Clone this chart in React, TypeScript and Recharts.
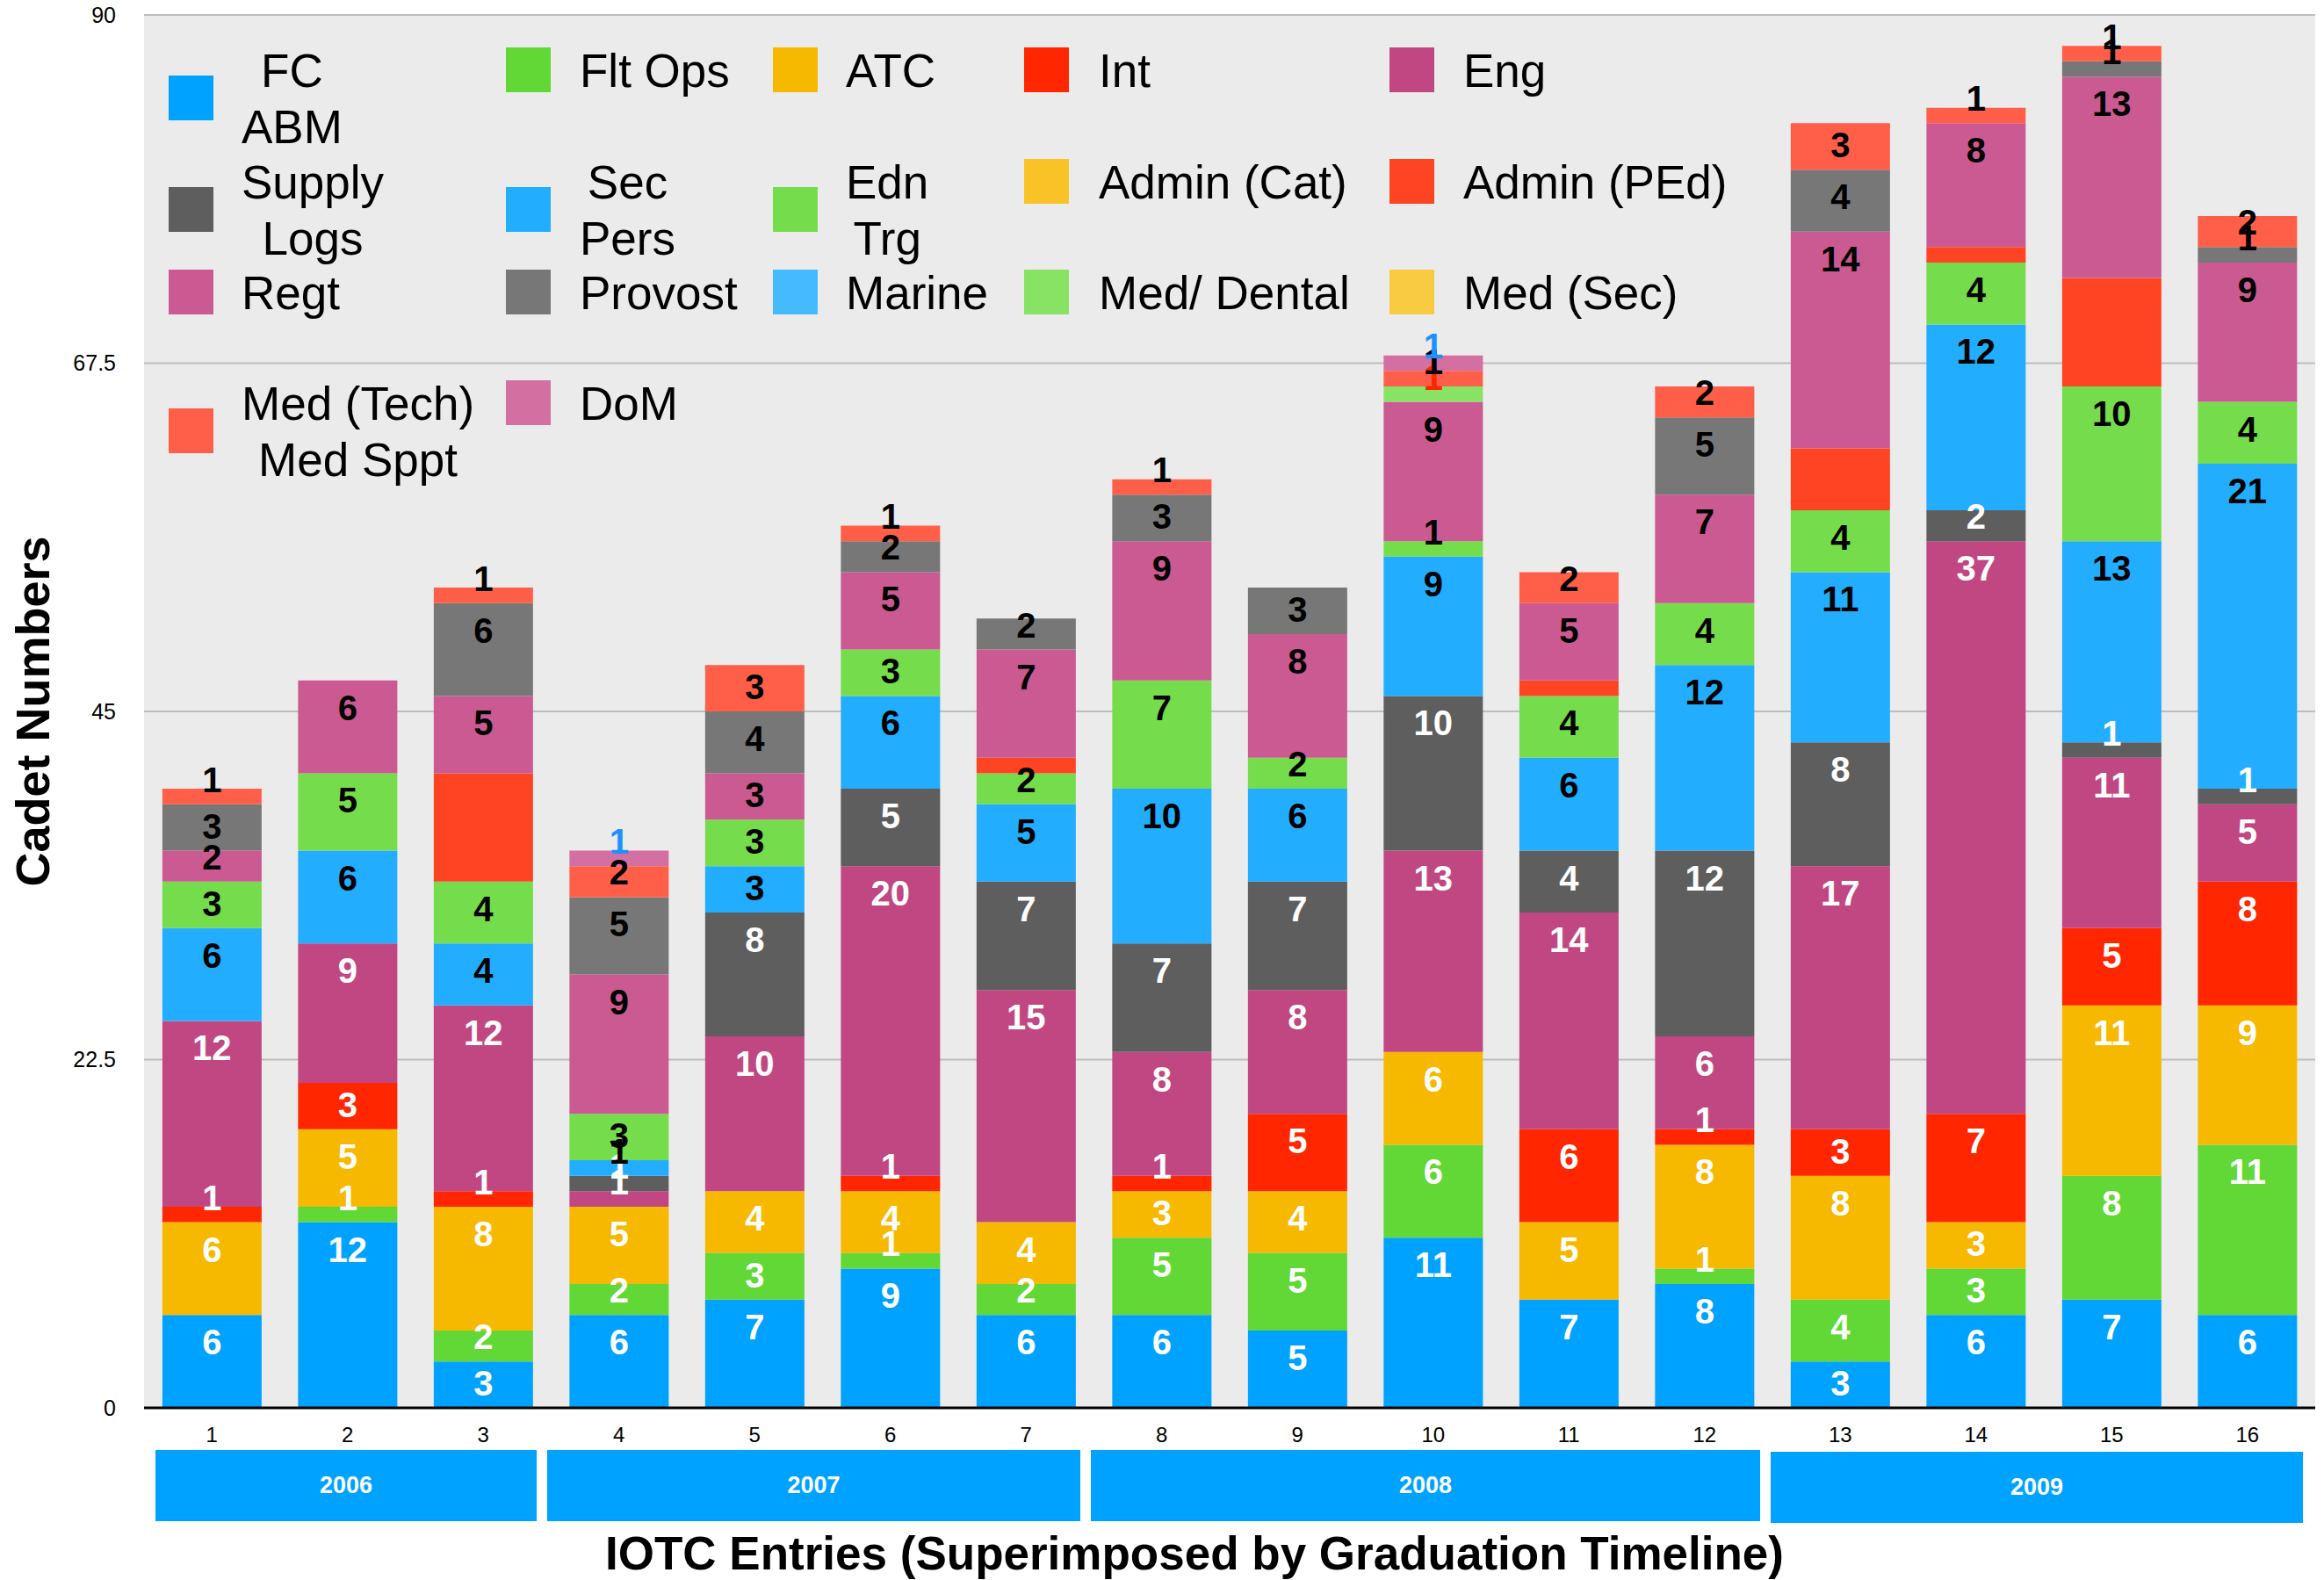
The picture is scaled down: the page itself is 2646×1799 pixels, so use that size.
import { BarChart, Bar, XAxis, YAxis, CartesianGrid, LabelList } from 'recharts';

const FONT = '"Liberation Sans", Arial, Helvetica, sans-serif';

// IOTC entries (x categories)
const entries = ['1', '2', '3', '4', '5', '6', '7', '8', '9', '10', '11', '12', '13', '14', '15', '16'];

// cadet numbers per branch, bottom of stack first
const fcAbm      = [6, 12, 3, 6, 7, 9, 6, 6, 5, 11, 7, 8, 3, 6, 7, 6];
const fltOps     = [0, 1, 2, 2, 3, 1, 2, 5, 5, 6, 0, 1, 4, 3, 8, 11];
const atc        = [6, 5, 8, 5, 4, 4, 4, 3, 4, 6, 5, 8, 8, 3, 11, 9];
const intel      = [1, 3, 1, 0, 0, 1, 0, 1, 5, 0, 6, 1, 3, 7, 5, 8];
const eng        = [12, 9, 12, 1, 10, 20, 15, 8, 8, 13, 14, 6, 17, 37, 11, 5];
const supplyLogs = [0, 0, 0, 1, 8, 5, 7, 7, 7, 10, 4, 12, 8, 2, 1, 1];
const secPers    = [6, 6, 4, 1, 3, 6, 5, 10, 6, 9, 6, 12, 11, 12, 13, 21];
const ednTrg     = [3, 5, 4, 3, 3, 3, 2, 7, 2, 1, 4, 4, 4, 4, 10, 4];
const adminCat   = [0, 0, 0, 0, 0, 0, 0, 0, 0, 0, 0, 0, 0, 0, 0, 0];
const adminPEd   = [0, 0, 7, 0, 0, 0, 1, 0, 0, 0, 1, 0, 4, 1, 7, 0];
const regt       = [2, 6, 5, 9, 3, 5, 7, 9, 8, 9, 5, 7, 14, 8, 13, 9];
const provost    = [3, 0, 6, 5, 4, 2, 2, 3, 3, 0, 0, 5, 4, 0, 1, 1];
const marine     = [0, 0, 0, 0, 0, 0, 0, 0, 0, 0, 0, 0, 0, 0, 0, 0];
const medDental  = [0, 0, 0, 0, 0, 0, 0, 0, 0, 1, 0, 0, 0, 0, 0, 0];
const medSec     = [0, 0, 0, 0, 0, 0, 0, 0, 0, 0, 0, 0, 0, 0, 0, 0];
const medTech    = [1, 0, 1, 2, 3, 1, 0, 1, 0, 1, 2, 2, 3, 1, 1, 2];
const dom        = [0, 0, 0, 1, 0, 0, 0, 0, 0, 1, 0, 0, 0, 0, 0, 0];

const yTicks = [0, 22.5, 45, 67.5, 90];
const years = ['2006', '2007', '2008', '2009'];

// legend order is row-major, 5 per row
const SERIES = [
  { key: 'fcAbm', name: 'FC\nABM', values: fcAbm, color: '#00A2FF', label: '#FFFFFF' },
  { key: 'fltOps', name: 'Flt Ops', values: fltOps, color: '#61D836', label: '#FFFFFF' },
  { key: 'atc', name: 'ATC', values: atc, color: '#F6B900', label: '#FFFFFF' },
  { key: 'intel', name: 'Int', values: intel, color: '#FF2600', label: '#FFFFFF' },
  { key: 'eng', name: 'Eng', values: eng, color: '#C14783', label: '#FFFFFF' },
  { key: 'supplyLogs', name: 'Supply\nLogs', values: supplyLogs, color: '#5E5E5E', label: '#FFFFFF' },
  { key: 'secPers', name: 'Sec\nPers', values: secPers, color: '#22ADFF', label: '#000000' },
  { key: 'ednTrg', name: 'Edn\nTrg', values: ednTrg, color: '#75DD4C', label: '#000000' },
  { key: 'adminCat', name: 'Admin (Cat)', values: adminCat, color: '#F9C226', label: '#000000' },
  { key: 'adminPEd', name: 'Admin (PEd)', values: adminPEd, color: '#FF4424', label: null },
  { key: 'regt', name: 'Regt', values: regt, color: '#CB5A92', label: '#000000' },
  { key: 'provost', name: 'Provost', values: provost, color: '#777777', label: '#000000' },
  { key: 'marine', name: 'Marine', values: marine, color: '#45BAFF', label: '#000000' },
  { key: 'medDental', name: 'Med/ Dental', values: medDental, color: '#88E264', label: '#FF2600' },
  { key: 'medSec', name: 'Med (Sec)', values: medSec, color: '#F9CB40', label: '#000000' },
  { key: 'medTech', name: 'Med (Tech)\nMed Sppt', values: medTech, color: '#FF5F48', label: '#000000' },
  { key: 'dom', name: 'DoM', values: dom, color: '#D46FA1', label: '#1E90FF' },
];

const data = entries.map((entry, i) => {
  const row: Record<string, any> = { entry };
  SERIES.forEach((s) => { row[s.key] = s.values[i]; });
  return row;
});

// legend placement (px)
const LEG_SW_X = [192, 576, 880, 1166, 1582];
const LEG_TX_X = [275, 660, 963, 1251, 1666];
const LEG_ROW_TOP = [49, 176, 302, 428];
const LINE_H = 63.5;

// graduation year boxes (px)
const YEAR_BOX = [
  { left: 177, width: 434, top: 1651 },
  { left: 623, width: 607, top: 1651 },
  { left: 1242, width: 762, top: 1651 },
  { left: 2016, width: 606, top: 1653 },
];

function makeLabel(color: string) {
  return (props: any) => {
    const vb = props.viewBox || {};
    const x = Number(props.x ?? vb.x);
    const y = Number(props.y ?? vb.y);
    const w = Number(props.width ?? vb.width);
    const h = Number(props.height ?? vb.height);
    const v = props.value;
    if (!v) return null;
    const cy = Math.min(y + 31, y + h - 28);
    return (
      <text
        x={x + w / 2}
        y={cy + 14}
        textAnchor="middle"
        fill={color}
        fontSize={40}
        fontWeight="bold"
        fontFamily={FONT}
      >
        {v}
      </text>
    );
  };
}

function LegendBlock() {
  return (
    <>
      {SERIES.map((s, i) => {
        const row = Math.floor(i / 5);
        const col = i % 5;
        const twoLine = s.name.includes('\n');
        const top = LEG_ROW_TOP[row];
        const swTop = twoLine ? top + 36.5 : top + 5;
        return (
          <div key={s.key}>
            <div
              style={{
                position: 'absolute', left: LEG_SW_X[col], top: swTop,
                width: 51, height: 51, background: s.color,
              }}
            />
            <div
              style={{
                position: 'absolute', left: LEG_TX_X[col], top,
                fontFamily: FONT, fontSize: 53, lineHeight: `${LINE_H}px`,
                whiteSpace: 'pre', textAlign: 'center', color: '#000',
              }}
            >
              {s.name}
            </div>
          </div>
        );
      })}
    </>
  );
}

export default function App() {
  return (
    <div style={{ position: 'absolute', left: 0, top: 0, width: 2646, height: 1799, background: '#fff', overflow: 'hidden' }}>
      <BarChart
        width={2646}
        height={1799}
        data={data}
        margin={{ top: 17, right: 10, bottom: 136, left: 0 }}
        barCategoryGap="13.5%"
      >
        <CartesianGrid vertical={false} fill="#EBEBEB" fillOpacity={1} stroke="#BDBDBD" strokeWidth={2} />
        <YAxis
          type="number"
          domain={[0, 90]}
          ticks={yTicks}
          interval={0}
          width={164}
          axisLine={false}
          tickLine={false}
          tickSize={0}
          tickMargin={32}
          tick={{ fontSize: 25, fill: '#000', fontFamily: FONT }}
        />
        <XAxis
          dataKey="entry"
          height={60}
          interval={0}
          tickLine={false}
          tickSize={0}
          tickMargin={22}
          axisLine={{ stroke: '#000', strokeWidth: 3 }}
          tick={{ fontSize: 24, fill: '#000', fontFamily: FONT }}
        />
        {SERIES.map((s) => (
          <Bar key={s.key} dataKey={s.key} stackId="s" fill={s.color} isAnimationActive={false}>
            {s.label && <LabelList dataKey={s.key} content={makeLabel(s.label)} />}
          </Bar>
        ))}
      </BarChart>

      <LegendBlock />

      {years.map((yr, i) => (
        <div
          key={yr}
          style={{
            position: 'absolute', left: YEAR_BOX[i].left, top: YEAR_BOX[i].top,
            width: YEAR_BOX[i].width, height: 81, background: '#00A2FF',
            color: '#fff', fontFamily: FONT, fontWeight: 'bold', fontSize: 27,
            display: 'flex', alignItems: 'center', justifyContent: 'center',
          }}
        >
          {yr}
        </div>
      ))}

      <svg width={2646} height={1799} style={{ position: 'absolute', left: 0, top: 0, pointerEvents: 'none' }}>
        <text
          x={1360}
          y={1787}
          textAnchor="middle"
          fontFamily={FONT}
          fontWeight="bold"
          fontSize={53}
          fill="#000"
        >
          IOTC Entries (Superimposed by Graduation Timeline)
        </text>
        <text
          x={56}
          y={810}
          transform="rotate(-90, 56, 810)"
          textAnchor="middle"
          fontFamily={FONT}
          fontWeight="bold"
          fontSize={54}
          fill="#000"
        >
          Cadet Numbers
        </text>
      </svg>
    </div>
  );
}
